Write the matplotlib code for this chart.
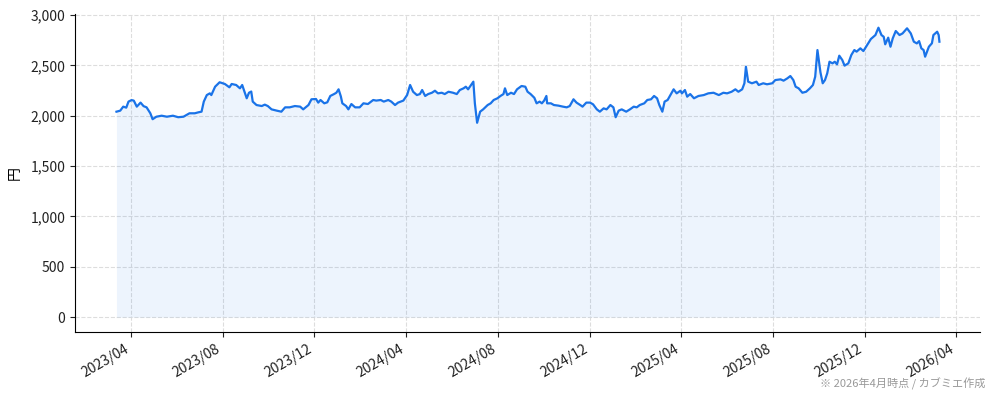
import matplotlib
matplotlib.use("Agg")
import matplotlib.pyplot as plt
import matplotlib.dates as mdates
import matplotlib.ticker as mticker
import pandas as pd

# 株価（円）: 画像から読み取った値
dates = [
    "2023-03-13", "2023-03-18", "2023-03-22", "2023-03-26", "2023-03-29", "2023-04-02", "2023-04-05",
    "2023-04-09", "2023-04-14", "2023-04-18", "2023-04-22", "2023-04-27", "2023-04-30", "2023-05-05",
    "2023-05-12", "2023-05-19", "2023-05-27", "2023-06-03", "2023-06-10", "2023-06-18", "2023-06-25",
    "2023-06-30", "2023-07-04", "2023-07-07", "2023-07-11", "2023-07-15", "2023-07-17", "2023-07-22",
    "2023-07-28", "2023-08-04", "2023-08-10", "2023-08-13", "2023-08-19", "2023-08-24", "2023-08-27",
    "2023-09-02", "2023-09-05", "2023-09-08", "2023-09-10", "2023-09-15", "2023-09-22", "2023-09-26",
    "2023-09-30", "2023-10-05", "2023-10-12", "2023-10-18", "2023-10-23", "2023-10-29", "2023-11-05",
    "2023-11-12", "2023-11-16", "2023-11-23", "2023-11-27", "2023-12-03", "2023-12-06", "2023-12-09",
    "2023-12-14", "2023-12-18", "2023-12-22", "2023-12-27", "2023-12-30", "2024-01-02", "2024-01-05",
    "2024-01-07", "2024-01-12", "2024-01-15", "2024-01-19", "2024-01-24", "2024-01-30", "2024-02-04",
    "2024-02-10", "2024-02-17", "2024-02-21", "2024-02-27", "2024-03-02", "2024-03-08", "2024-03-12",
    "2024-03-17", "2024-03-21", "2024-03-28", "2024-04-02", "2024-04-06", "2024-04-10", "2024-04-15",
    "2024-04-19", "2024-04-22", "2024-04-26", "2024-04-30", "2024-05-05", "2024-05-09", "2024-05-13",
    "2024-05-18", "2024-05-22", "2024-05-27", "2024-06-02", "2024-06-07", "2024-06-11", "2024-06-16",
    "2024-06-19", "2024-06-22", "2024-06-27", "2024-06-29", "2024-07-01", "2024-07-04", "2024-07-08",
    "2024-07-12", "2024-07-18", "2024-07-22", "2024-07-26", "2024-07-31", "2024-08-04", "2024-08-08",
    "2024-08-10", "2024-08-13", "2024-08-18", "2024-08-22", "2024-08-26", "2024-09-01", "2024-09-06",
    "2024-09-09", "2024-09-13", "2024-09-18", "2024-09-21", "2024-09-25", "2024-09-28", "2024-10-01",
    "2024-10-04", "2024-10-05", "2024-10-10", "2024-10-14", "2024-10-20", "2024-10-26", "2024-10-31",
    "2024-11-04", "2024-11-09", "2024-11-13", "2024-11-18", "2024-11-21", "2024-11-26", "2024-12-01",
    "2024-12-05", "2024-12-10", "2024-12-14", "2024-12-19", "2024-12-23", "2024-12-28", "2025-01-01",
    "2025-01-04", "2025-01-08", "2025-01-12", "2025-01-18", "2025-01-23", "2025-01-28", "2025-02-01",
    "2025-02-05", "2025-02-11", "2025-02-15", "2025-02-20", "2025-02-24", "2025-02-28", "2025-03-03",
    "2025-03-07", "2025-03-10", "2025-03-14", "2025-03-17", "2025-03-22", "2025-03-26", "2025-03-31",
    "2025-04-02", "2025-04-06", "2025-04-09", "2025-04-13", "2025-04-18", "2025-04-24", "2025-05-01",
    "2025-05-07", "2025-05-14", "2025-05-21", "2025-05-27", "2025-06-01", "2025-06-07", "2025-06-12",
    "2025-06-16", "2025-06-21", "2025-06-24", "2025-06-26", "2025-06-29", "2025-07-04", "2025-07-10",
    "2025-07-13", "2025-07-19", "2025-07-24", "2025-07-31", "2025-08-04", "2025-08-11", "2025-08-15",
    "2025-08-20", "2025-08-24", "2025-08-28", "2025-08-31", "2025-09-04", "2025-09-09", "2025-09-14",
    "2025-09-19", "2025-09-23", "2025-09-26", "2025-09-29", "2025-10-03", "2025-10-06", "2025-10-09",
    "2025-10-12", "2025-10-15", "2025-10-19", "2025-10-22", "2025-10-25", "2025-10-28", "2025-11-01",
    "2025-11-04", "2025-11-09", "2025-11-13", "2025-11-17", "2025-11-20", "2025-11-25", "2025-11-29",
    "2025-12-04", "2025-12-09", "2025-12-15", "2025-12-19", "2025-12-23", "2025-12-26", "2025-12-28",
    "2026-01-01", "2026-01-04", "2026-01-07", "2026-01-11", "2026-01-16", "2026-01-20", "2026-01-26",
    "2026-01-31", "2026-02-04", "2026-02-08", "2026-02-11", "2026-02-14", "2026-02-17", "2026-02-19",
    "2026-02-24", "2026-02-28", "2026-03-02", "2026-03-07", "2026-03-09", "2026-03-10",
]
prices = [
    2040, 2050, 2090, 2080, 2140, 2155, 2150,
    2090, 2130, 2095, 2083, 2024, 1965, 1990,
    2000, 1990, 2000, 1985, 1990, 2024, 2024,
    2034, 2040, 2140, 2205, 2222, 2205, 2288,
    2332, 2315, 2282, 2315, 2305, 2272, 2305,
    2173, 2228, 2240, 2140, 2106, 2096, 2110,
    2096, 2063, 2050, 2040, 2083, 2083, 2096,
    2090, 2063, 2106, 2163, 2166, 2130, 2156,
    2123, 2133, 2196, 2215, 2228, 2262, 2192,
    2123, 2096, 2063, 2116, 2083, 2083, 2123,
    2116, 2156, 2150, 2156, 2140, 2156, 2140,
    2106, 2130, 2150, 2205, 2305, 2238, 2205,
    2215, 2255, 2196, 2215, 2228, 2248, 2222,
    2228, 2215, 2238, 2228, 2215, 2255, 2272,
    2288, 2262, 2315, 2338, 2123, 1930, 2040,
    2063, 2106, 2123, 2156, 2173, 2196, 2215,
    2272, 2205, 2228, 2215, 2262, 2295, 2288,
    2238, 2215, 2178, 2123, 2140, 2123, 2150,
    2196, 2123, 2123, 2106, 2100, 2090, 2083,
    2096, 2163, 2130, 2106, 2090, 2130, 2130,
    2113, 2063, 2040, 2073, 2063, 2106, 2083,
    1985, 2050, 2063, 2040, 2063, 2090, 2083,
    2106, 2123, 2156, 2163, 2196, 2173, 2106,
    2040, 2140, 2156, 2196, 2262, 2222, 2248,
    2222, 2255, 2189, 2215, 2173, 2196, 2205,
    2222, 2228, 2205, 2228, 2222, 2238, 2262,
    2238, 2262, 2322, 2487, 2338, 2322, 2338,
    2305, 2322, 2312, 2322, 2354, 2361, 2348,
    2371, 2394, 2354, 2288, 2272, 2228, 2238,
    2272, 2305, 2387, 2652, 2430, 2322, 2354,
    2421, 2536, 2520, 2536, 2510, 2596, 2553,
    2497, 2520, 2603, 2652, 2636, 2669, 2642,
    2702, 2762, 2801, 2874, 2801, 2784, 2709,
    2775, 2685, 2768, 2841, 2801, 2817, 2868,
    2817, 2735, 2718, 2741, 2669, 2652, 2586,
    2685, 2719, 2801, 2834, 2801, 2735,
]

y_label = "円"
note = "※ 2026年4月時点 / カブミエ作成"

plt.rcParams['font.family'] = ['Noto Sans CJK JP', 'DejaVu Sans']

x = pd.to_datetime(dates)
line_color = '#1a73e8'

fig = plt.figure(figsize=(9.94, 4.0), dpi=100)
ax = fig.add_axes([0.0755, 0.17, 0.9105, 0.795])

ax.plot(x, prices, color=line_color, linewidth=1.6)
ax.fill_between(x, prices, 0, color=line_color, alpha=0.08, linewidth=0)

ax.set_xlim(pd.Timestamp("2023-01-17"), pd.Timestamp("2026-05-03"))
ax.set_ylim(-148, 3010)
ax.set_yticks([0, 500, 1000, 1500, 2000, 2500, 3000])
ax.yaxis.set_major_formatter(mticker.FuncFormatter(lambda v, p: f"{int(v):,}"))

ax.xaxis.set_major_locator(mdates.MonthLocator(bymonth=[4, 8, 12]))
ax.xaxis.set_major_formatter(mdates.DateFormatter("%Y/%m"))
for lbl in ax.get_xticklabels():
    lbl.set_rotation(30)
    lbl.set_ha('right')

ax.tick_params(labelsize=10, colors='#222222')
ax.grid(True, linestyle='--', color='#dddddd', linewidth=0.8)
ax.set_axisbelow(True)
for s in ['top', 'right']:
    ax.spines[s].set_visible(False)

ax.set_ylabel(y_label, fontsize=10, labelpad=6)

fig.text(0.991, 0.026, note, ha='right', va='bottom', fontsize=8, color='#999999')

plt.savefig('out.png', dpi=100)
plt.close()
